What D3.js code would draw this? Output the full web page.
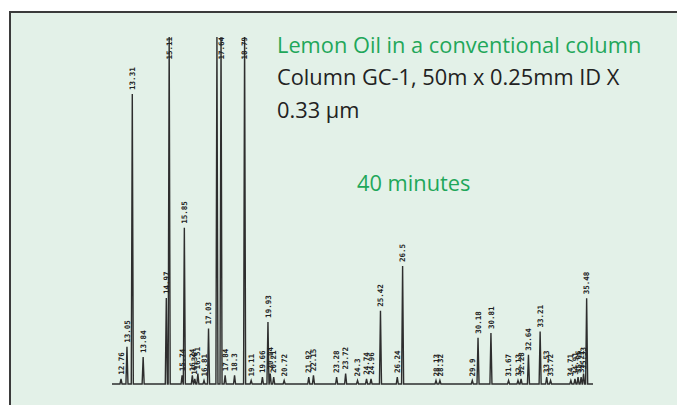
<!DOCTYPE html>
<html>
<head>
<meta charset="utf-8">
<script src="https://cdn.jsdelivr.net/npm/d3@7"></script>
<style>
  html, body { margin: 0; padding: 0; background: #ffffff; }
  svg { display: block; }
</style>
</head>
<body>
<svg id="chart" width="677" height="405"></svg>
<script>
// Retention times (min) of the resolved peaks, their relative response
// (100 = full scale, off-scale peaks are clipped) and the printed labels.
const peakTimes = [
  12.76, 13.05, 13.31, 13.84, 14.97, 15.11, 15.74, 15.85, 16.24, 16.36,
  16.51, 16.81, 17.03, 17.44, 17.64, 17.84, 18.30, 18.79, 19.11, 19.66,
  19.93, 20.04, 20.21, 20.72, 21.92, 22.15, 23.28, 23.72, 24.30, 24.74,
  24.96, 25.42, 26.24, 26.50, 28.13, 28.32, 29.90, 30.18, 30.81, 31.67,
  32.13, 32.28, 32.64, 33.21, 33.53, 33.72, 34.71, 34.91, 35.06, 35.21,
  35.33, 35.48
];
const peakHeights = [
  1.5, 10.7, 83.6, 7.8, 24.8, 100, 2.5, 45.0, 2.5, 1.5,
  3.0, 1.0, 16.0, 100, 100, 2.5, 2.5, 100, 1.0, 2.0,
  17.9, 3.0, 2.0, 1.0, 2.0, 2.5, 2.0, 3.0, 1.0, 1.5,
  1.5, 21.1, 2.0, 34.0, 1.0, 1.0, 1.0, 13.3, 14.7, 1.0,
  1.0, 1.5, 8.4, 15.1, 2.0, 1.0, 1.0, 1.5, 2.0, 2.0,
  3.0, 24.7
];
const peakLabels = [
  "12.76", "13.05", "13.31", "13.84", "14.97", "15.11", "15.74", "15.85", "16.24", "16.36",
  "16.51", "16.81", "17.03", "", "17.64", "17.84", "18.3", "18.79", "19.11", "19.66",
  "19.93", "20.04", "20.21", "20.72", "21.92", "22.15", "23.28", "23.72", "24.3", "24.74",
  "24.96", "25.42", "26.24", "26.5", "28.13", "28.32", "29.9", "30.18", "30.81", "31.67",
  "32.13", "32.28", "32.64", "33.21", "33.53", "33.72", "34.71", "34.91", "35.06", "35.21",
  "35.33", "35.48"
];
// Recorded time window of the trace (min)
const timeRange = [12.32, 35.79];
const fullScale = 100;

// Caption block
const captionTitle = "Lemon Oil in a conventional column";
const captionLines = ["Column GC-1, 50m x 0.25mm ID X", "0.33 µm"];
const captionRun = "40 minutes";

const svg = d3.select("#chart");
const W = 677, H = 405;
const green = "#1fa75a";

// Panel with mint fill and a dark frame on the top and left
svg.append("rect").attr("x", 0).attr("y", 0).attr("width", W).attr("height", H).attr("fill", "#ffffff");
svg.append("rect")
  .attr("x", 10).attr("y", 12).attr("width", W + 20).attr("height", H + 20)
  .attr("fill", "#e3f1e8")
  .attr("stroke", "#3b3b3b").attr("stroke-width", 2);

const x = d3.scaleLinear().domain(timeRange).range([112, 593]);
const y = d3.scaleLinear().domain([0, fullScale]).range([384, 37]).clamp(true);

// Build the detector trace: flat baseline with a narrow spike for each peak
const halfWidth = 0.05;
const peaks = peakTimes.map((t, i) => ({ t, h: peakHeights[i], label: peakLabels[i] }));
const tracePts = [[timeRange[0], 0]];
peaks.forEach(p => {
  tracePts.push([p.t - halfWidth, 0], [p.t, p.h], [p.t + halfWidth, 0]);
});
tracePts.push([timeRange[1], 0]);

const line = d3.line().x(d => x(d[0])).y(d => y(d[1]));
svg.append("path")
  .datum(tracePts)
  .attr("d", line)
  .attr("fill", "none")
  .attr("stroke", "#2e2e2e")
  .attr("stroke-width", 1.4)
  .attr("stroke-linejoin", "miter");

// Retention-time labels, rotated, sitting above each peak apex
svg.append("g")
  .selectAll("text")
  .data(peaks.filter(p => p.label !== ""))
  .join("text")
  .attr("transform", p => {
    const py = p.h >= fullScale ? y(p.h) : y(p.h) - 4;
    return `translate(${x(p.t)},${py}) rotate(-90)`;
  })
  .attr("text-anchor", p => p.h >= fullScale ? "end" : "start")
  .attr("dy", "0.35em")
  .attr("font-family", "'DejaVu Sans Mono', monospace")
  .attr("font-weight", "bold")
  .attr("font-size", 7.5)
  .attr("fill", "#222222")
  .text(p => p.label);

// Caption
const capSize = 21.8;
const cap = svg.append("g").attr("font-family", "'Open Sans', 'Noto Sans', sans-serif");
cap.append("text").attr("x", 277).attr("y", 53).attr("font-size", capSize).attr("fill", green).text(captionTitle);
captionLines.forEach((s, i) => {
  cap.append("text").attr("x", 277).attr("y", 85 + i * 33).attr("font-size", capSize).attr("fill", "#222222").text(s);
});
cap.append("text").attr("x", 357).attr("y", 191).attr("font-size", capSize).attr("fill", green).text(captionRun);
</script>
</body>
</html>
